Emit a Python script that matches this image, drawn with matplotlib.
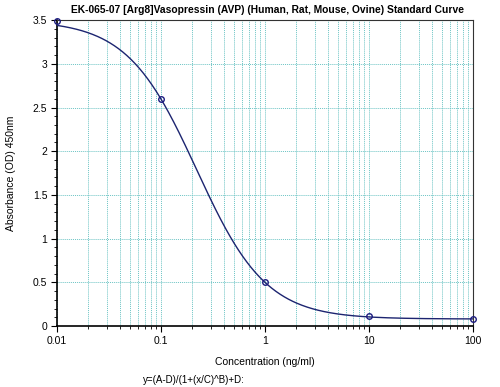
import numpy as np
import matplotlib
matplotlib.use('Agg')
import matplotlib.pyplot as plt
from matplotlib.ticker import LogLocator, MultipleLocator, FixedFormatter, FixedLocator

# standard points
conc = [0.01, 0.1, 1, 10, 100]
od = [3.49, 2.6, 0.5, 0.12, 0.08]

# 4PL fit parameters
A, B, C, D = 3.5, 1.3, 0.22, 0.08

xticks = [0.01, 0.1, 1, 10, 100]
xlabels = ['0.01', '0.1', '1', '10', '100']
yticks = [0, 0.5, 1, 1.5, 2, 2.5, 3, 3.5]
ylabels = ['0', '0.5', '1', '1.5', '2', '2.5', '3', '3.5']

plt.rcParams['font.family'] = ['Liberation Sans', 'DejaVu Sans']

fig = plt.figure(figsize=(5.0, 3.87), dpi=100)
ax = fig.add_axes([0.114, 0.1576, 0.832, 0.7904])

xs = np.logspace(-2, 2, 400)
ys = (A - D) / (1 + (xs / C) ** B) + D
ax.plot(xs, ys, color='#1c2470', lw=1.0, zorder=3)
ax.plot(conc, od, 'o', mfc='none', mec='#1c1c80', ms=4, mew=1.0, zorder=4, clip_on=False)

ax.set_xscale('log')
ax.set_xlim(0.01, 100)
ax.set_ylim(0, 3.5)
ax.xaxis.set_major_locator(FixedLocator(xticks))
ax.xaxis.set_major_formatter(FixedFormatter(xlabels))
ax.xaxis.set_minor_locator(LogLocator(base=10, subs=np.arange(2, 10)))
ax.xaxis.set_minor_formatter(plt.NullFormatter())
ax.yaxis.set_major_locator(FixedLocator(yticks))
ax.yaxis.set_major_formatter(FixedFormatter(ylabels))
ax.yaxis.set_minor_locator(MultipleLocator(0.1))

gc = '#6cc4c4'
ax.grid(True, which='major', axis='both', color=gc, ls=(0, (1, 1)), lw=0.7)
ax.grid(True, which='minor', axis='x', color=gc, ls=(0, (1, 1)), lw=0.7)

ax.tick_params(axis='both', which='major', labelsize=7.5, length=4, width=0.8, colors='black', pad=3)
ax.tick_params(axis='both', which='minor', length=2, width=0.6)

for s in ['left', 'bottom']:
    ax.spines[s].set_linewidth(1.2)
    ax.spines[s].set_color('black')
for s in ['top', 'right']:
    ax.spines[s].set_linewidth(0.8)
    ax.spines[s].set_color('#333333')

ax.set_xlabel('Concentration (ng/ml)', fontsize=7.5, labelpad=8)
ax.set_ylabel('Absorbance (OD) 450nm', fontsize=7.5, labelpad=12)
fig.text(0.535, 0.975, 'EK-065-07 [Arg8]Vasopressin (AVP) (Human, Rat, Mouse, Ovine) Standard Curve',
         ha='center', va='center', fontsize=7.4, fontweight='bold')
fig.text(0.286, 0.018, 'y=(A-D)/(1+(x/C)^B)+D:', ha='left', va='center', fontsize=7)

fig.savefig('out.png', dpi=100)
